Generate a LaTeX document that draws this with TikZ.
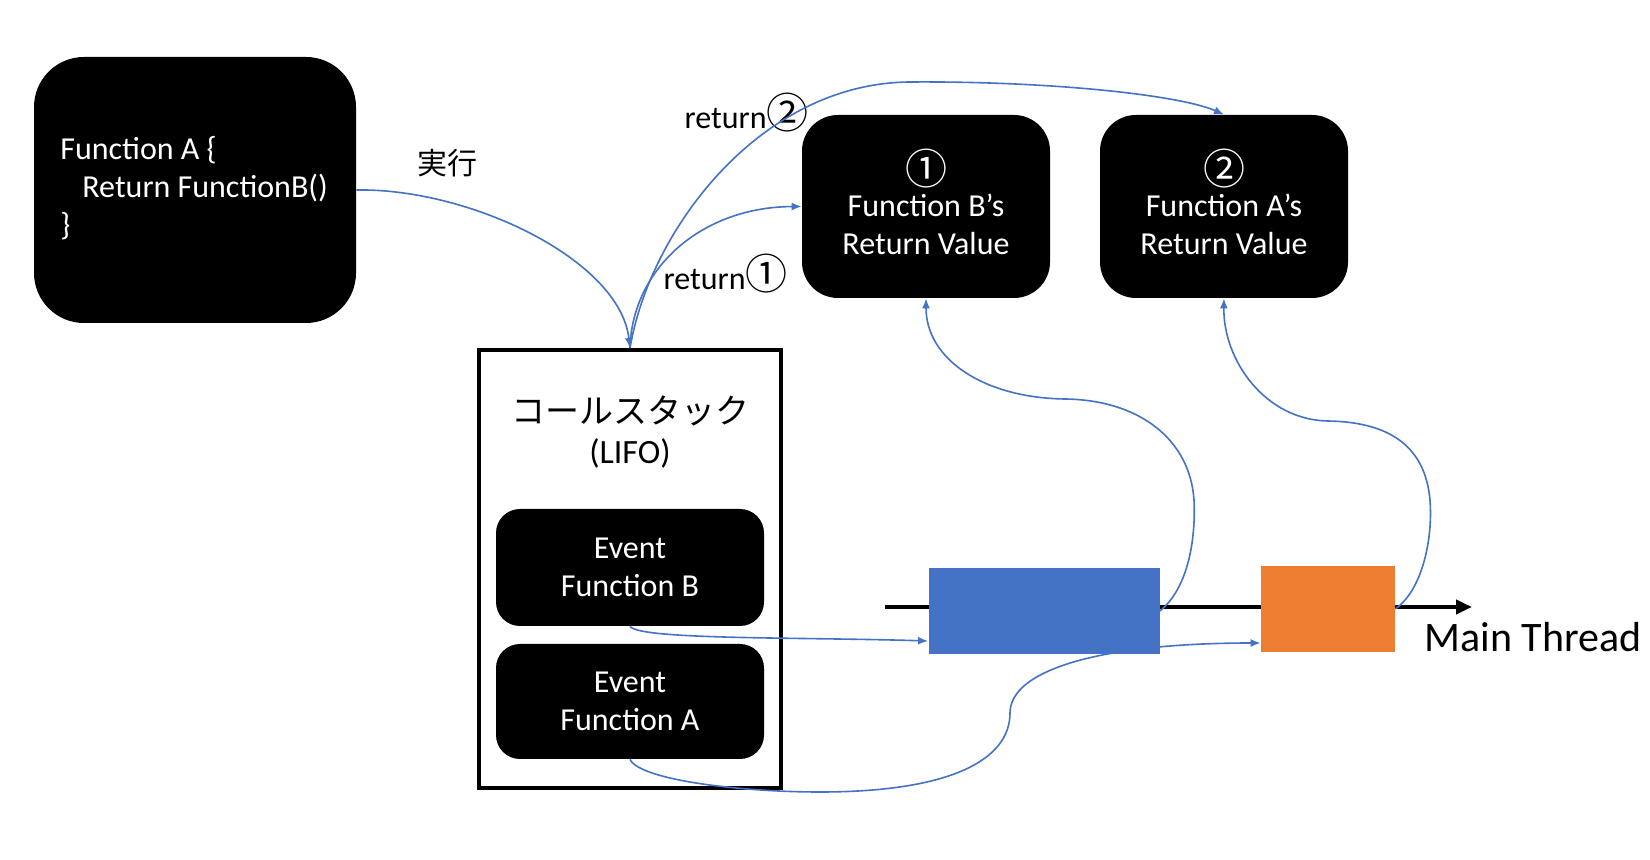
\documentclass[tikz,border=0pt]{standalone}
\usepackage{fontspec}
\setmainfont{Carlito}
\newfontfamily\cjk{Noto Sans CJK JP}
\usetikzlibrary{arrows.meta,calc}
\definecolor{connblue}{HTML}{4472C4}
\definecolor{bluebox}{HTML}{4472C4}
\definecolor{orangebox}{HTML}{ED7D31}
\newcommand{\cnum}[1]{{\cjk\fontsize{21pt}{18pt}\selectfont #1}}
\begin{document}
\begin{tikzpicture}[x=0.5pt,y=-0.5pt,
  txt/.style={font=\fontsize{16pt}{19pt}\selectfont},
  blackbox/.style={fill=black, text=white, inner sep=0pt, align=center,
    font=\fontsize{16pt}{19pt}\selectfont},
  whitetext/.style={text=white, inner sep=0pt, align=center,
    font=\fontsize{16pt}{19pt}\selectfont},
  conn/.style={draw=connblue, line width=0.8pt, -{Latex[length=5pt,width=4pt]}}]
\useasboundingbox[fill=white] (0,0) rectangle (1650,860);

% main thread
\coordinate (mts) at (885,607);
\coordinate (mte) at (1472,607);
\draw[line width=2pt,-{Triangle[length=8pt,width=7pt]}] (mts) -- (mte);
\node[anchor=west, inner sep=0pt, font=\fontsize{21pt}{24pt}\selectfont] (mtl) at (1424,637) {Main Thread};

% function A code box
\node[blackbox, rounded corners=25pt, minimum width=161pt, minimum height=133pt] (fa) at (195,190) {};
\node[anchor=west, text=white, align=left, inner sep=0pt,
  font=\fontsize{16pt}{19pt}\selectfont] (fatext) at (60,188)
  {Function A \{\\\hspace*{11pt}Return FunctionB()\\\}};

% return value boxes
\node[blackbox, rounded corners=18pt, minimum width=124pt, minimum height=91.5pt] (rb) at (926,206.5) {};
\node[whitetext] (rbt) at (926,202) {\cnum{①}\\[-3pt]Function B’s\\Return Value};
\node[blackbox, rounded corners=18pt, minimum width=124pt, minimum height=91.5pt] (ra) at (1224,206.5) {};
\node[whitetext] (rat) at (1224,202) {\cnum{②}\\[-3pt]Function A’s\\Return Value};

% call stack
\node[draw=black, line width=2pt, minimum width=151pt, minimum height=219pt, inner sep=0pt] (stack) at (630,569) {};
\node[align=center, inner sep=0pt, font=\fontsize{17pt}{20pt}\selectfont] (stitle) at (630,432)
  {{\cjk\fontsize{17pt}{20pt}\selectfont コールスタック}\\(LIFO)};
\node[blackbox, rounded corners=12pt, minimum width=134pt, minimum height=58.5pt] (evb) at (630,567.5)
  {Event\\Function B};
\node[blackbox, rounded corners=12pt, minimum width=134pt, minimum height=57.5pt] (eva) at (630,701.5)
  {Event\\Function A};

% main thread blocks
\node[fill=bluebox, minimum width=115.5pt, minimum height=43pt, inner sep=0pt] (blue) at (1044,611) {};
\node[fill=orangebox, minimum width=67pt, minimum height=43pt, inner sep=0pt] (orange) at (1328,609) {};

% labels
\node[font=\cjk\fontsize{15pt}{18pt}\selectfont] (jikko) at (447,163) {実行};
\node[txt, anchor=east, inner sep=0pt] (ret2) at (809,113) {return\cnum{②}};
\node[txt, anchor=east, inner sep=0pt] (ret1) at (788,274) {return\cnum{①}};

% connectors
\draw[conn] (fa.east) .. controls (470,188) and (620,260) .. (stack.north);
\draw[conn] (stack.north) .. controls (632,270) and (700,207) .. (rb.west);
\draw[conn] (stack.north) .. controls (650,230) and (760,83) .. (910,82)
  .. controls (1050,81) and (1180,95) .. (ra.north);
\draw[conn] (evb.south) .. controls (640,640) and (800,637) .. ($(blue.west)+(0,30)$);
\draw[conn] (eva.south) .. controls (640,780) and (740,792) .. (820,792)
  .. controls (950,792) and (1010,760) .. (1010,713)
  .. controls (1010,670) and (1100,643) .. ($(orange.west)+(0,34)$);
\draw[conn] (blue.east) .. controls (1186,590) and (1196,545) .. (1194,500)
  .. controls (1190,440) and (1140,400) .. (1065,399)
  .. controls (985,398) and (926,360) .. (rb.south);
\draw[conn] (orange.east) .. controls (1422,590) and (1433,540) .. (1430,500)
  .. controls (1425,445) and (1388,422) .. (1328,421)
  .. controls (1265,420) and (1223,360) .. (ra.south);
\end{tikzpicture}
\end{document}
